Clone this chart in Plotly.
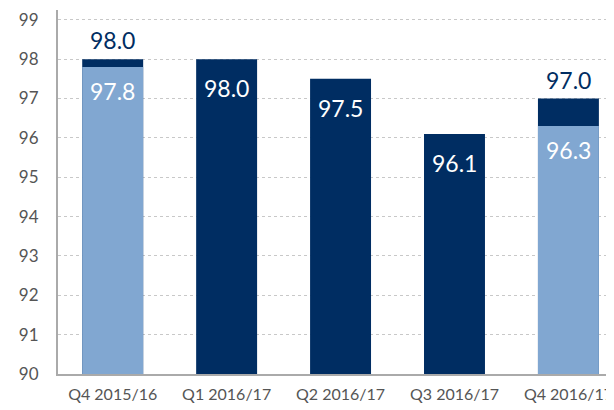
import plotly.graph_objects as go

quarters = ["Q4 2015/16", "Q1 2016/17", "Q2 2016/17", "Q3 2016/17", "Q4 2016/17"]
dark_values = [98.0, 98.0, 97.5, 96.1, 97.0]
light_values = [97.8, None, None, None, 96.3]
y_ticks = [90, 91, 92, 93, 94, 95, 96, 97, 98, 99]

NAVY = "#002d62"
LIGHT = "#81a7d1"
FONT = "Lato, 'Open Sans', sans-serif"

fig = go.Figure()
fig.add_trace(go.Bar(x=quarters, y=dark_values, marker_color=NAVY, width=0.535,
                     marker_line_width=0, hoverinfo="skip"))
fig.add_trace(go.Bar(x=quarters, y=light_values, marker_color=LIGHT, width=0.535,
                     marker_line_width=0, hoverinfo="skip"))

# value labels
for q, d, l in zip(quarters, dark_values, light_values):
    if l is not None:
        # dark label sits above, light label inside the light bar
        fig.add_annotation(x=q, y=d, text=f"{d:.1f}", showarrow=False, yanchor="bottom",
                           yshift=3, font=dict(family=FONT, size=23, color=NAVY))
        fig.add_annotation(x=q, y=l, text=f"{l:.1f}", showarrow=False, yanchor="top",
                           yshift=-8, font=dict(family=FONT, size=23, color="white"))
    else:
        fig.add_annotation(x=q, y=d, text=f"{d:.1f}", showarrow=False, yanchor="top",
                           yshift=-13, font=dict(family=FONT, size=23, color="white"))

# page body has an 8px margin, so the figure is sized/offset to compensate
fig.update_layout(
    width=606, height=402,
    margin=dict(l=50, r=0, t=2, b=36),
    barmode="overlay",
    showlegend=False,
    plot_bgcolor="white",
    paper_bgcolor="white",
    font=dict(family=FONT, size=16, color="#555555"),
)
fig.update_xaxes(range=[-0.48, 4.4], showgrid=False, showline=True, linecolor="#aaaaaa",
                 linewidth=2, ticks="", automargin=False, ticklabelstandoff=5,
                 tickfont=dict(size=16, color="#555555"))
fig.update_yaxes(range=[90, 99.25], tickvals=y_ticks, showgrid=True, gridcolor="#c8c8c8",
                 griddash="dot", gridwidth=1, showline=True, linecolor="#aaaaaa", linewidth=2,
                 ticks="", ticklabelstandoff=14, zeroline=False, automargin=False,
                 tickfont=dict(size=17, color="#555555"))

fig.write_html("out.html")
